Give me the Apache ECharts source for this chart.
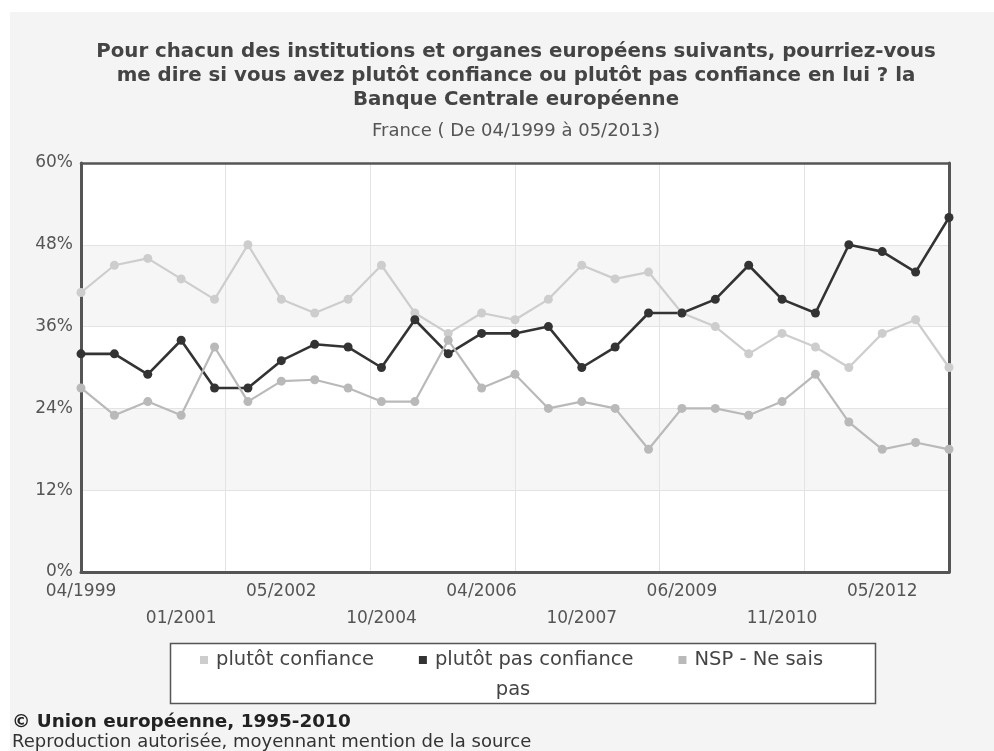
<!DOCTYPE html>
<html>
<head>
<meta charset="utf-8">
<script src="https://cdn.jsdelivr.net/npm/echarts@6/dist/echarts.min.js"></script>
<style>
html,body{margin:0;padding:0;background:#fff;}
#chart{width:994px;height:751px;}
</style>
</head>
<body>
<div id="chart"></div>
<script>
var categories = ['04/1999','11/1999','04/2000','01/2001','04/2001','10/2001','05/2002','10/2002','10/2003','10/2004','05/2005','10/2005','04/2006','09/2006','04/2007','10/2007','04/2008','10/2008','06/2009','10/2009','05/2010','11/2010','05/2011','11/2011','05/2012','11/2012','05/2013'];
var confiance = [41,45,46,43,40,48,40,38,40,45,38,35,38,37,40,45,43,44,38,36,32,35,33,30,35,37,30];
var pasConfiance = [32,32,29,34,27,27,31,33.4,33,30,37,32,35,35,36,30,33,38,38,40,45,40,38,48,47,44,52];
var nsp = [27,23,25,23,33,25,28,28.2,27,25,25,34,27,29,24,25,24,18,24,24,23,25,29,22,18,19,18];
var seriesNames = ['plutôt confiance','plutôt pas confiance','NSP - Ne sais pas'];
var yTicks = [0,12,24,36,48,60];

var FONT = 'DejaVu Sans';
var chart = echarts.init(document.getElementById('chart'), null, {renderer:'canvas'});
function mk(name, data, color, width){
  return {
    name:name, type:'line', data:data, xAxisIndex:0, yAxisIndex:0,
    symbol:'circle', symbolSize:9, showSymbol:true,
    itemStyle:{color:color}, lineStyle:{color:color, width:width},
    emphasis:{disabled:true}
  };
}
var border = {show:true, onZero:false, lineStyle:{color:'#555', width:3}};
chart.setOption({
  animation:false,
  backgroundColor:'#ffffff',
  title:{
    text:'Pour chacun des institutions et organes européens suivants, pourriez-vous\nme dire si vous avez plutôt confiance ou plutôt pas confiance en lui ? la\nBanque Centrale européenne',
    subtext:'France ( De 04/1999 à 05/2013)',
    left:516, top:40, textAlign:'center', itemGap:9, padding:0,
    textStyle:{fontFamily:FONT, fontWeight:'bold', fontSize:19.8, lineHeight:24, color:'#444'},
    subtextStyle:{fontFamily:FONT, fontSize:18, lineHeight:20, color:'#555'}
  },
  legend:{
    data:seriesNames, left:200, top:649, padding:0, itemGap:45,
    icon:'rect', itemWidth:8, itemHeight:8,
    formatter:function(n){ return n === seriesNames[2] ? 'NSP - Ne sais' : n; },
    textStyle:{fontFamily:FONT, fontSize:19.5, lineHeight:22, color:'#444', padding:[0,0,0,3]},
    selectedMode:false
  },
  graphic:[
    {type:'rect', z:-10, silent:true, shape:{x:10,y:12,width:984,height:739}, style:{fill:'#f4f4f4'}},
    {type:'rect', z:-5, silent:true, shape:{x:170.5,y:643.5,width:705,height:60}, style:{fill:'#ffffff', stroke:'#555', lineWidth:1.5}},
    {type:'text', z:10, silent:true, x:513, y:690, style:{text:'pas', fontFamily:FONT, fontSize:19.5, fill:'#444', align:'center', verticalAlign:'middle'}},
    {type:'text', z:10, silent:true, x:12, y:722, style:{text:'© Union européenne, 1995-2010', fontFamily:FONT, fontWeight:'bold', fontSize:18.4, fill:'#222', align:'left', verticalAlign:'middle'}},
    {type:'text', z:10, silent:true, x:12, y:742, style:{text:'Reproduction autorisée, moyennant mention de la source', fontFamily:FONT, fontSize:18, fill:'#333', align:'left', verticalAlign:'middle'}}
  ],
  grid:{left:81, right:45, top:163, bottom:179, show:true, backgroundColor:'#ffffff', borderWidth:0, containLabel:false},
  xAxis:[
    {type:'category', data:categories, boundaryGap:false, position:'bottom',
     axisLine:border, axisTick:{show:false}, splitLine:{show:false},
     axisLabel:{interval:2, margin:6, fontFamily:FONT, fontSize:17, lineHeight:27, color:'#555',
       formatter:function(v, i){ return (i % 6 === 3) ? '\n' + v : v; }}},
    {type:'value', min:0, max:6, interval:1, position:'top',
     axisLine:{show:true, onZero:false, lineStyle:{color:'#555', width:2.5}}, axisTick:{show:false}, axisLabel:{show:false},
     splitLine:{show:true, lineStyle:{color:'#e3e3e3', width:1}}}
  ],
  yAxis:[
    {type:'value', min:yTicks[0], max:yTicks[yTicks.length-1], interval:12, position:'left',
     axisLine:border, axisTick:{show:false},
     axisLabel:{margin:8, fontFamily:FONT, fontSize:17, color:'#555', formatter:'{value}%'},
     splitLine:{show:true, lineStyle:{color:'#e3e3e3', width:1}},
     splitArea:{show:true, areaStyle:{color:['#ffffff','#f6f6f6']}}},
    {type:'value', min:yTicks[0], max:yTicks[yTicks.length-1], interval:12, position:'right',
     axisLine:border, axisTick:{show:false}, axisLabel:{show:false},
     splitLine:{show:false}, splitArea:{show:false}}
  ],
  series:[
    mk(seriesNames[0], confiance, '#cdcdcd', 2.2),
    mk(seriesNames[1], pasConfiance, '#333333', 2.6),
    mk(seriesNames[2], nsp, '#b9b9b9', 2.2)
  ]
});
</script>
</body>
</html>
